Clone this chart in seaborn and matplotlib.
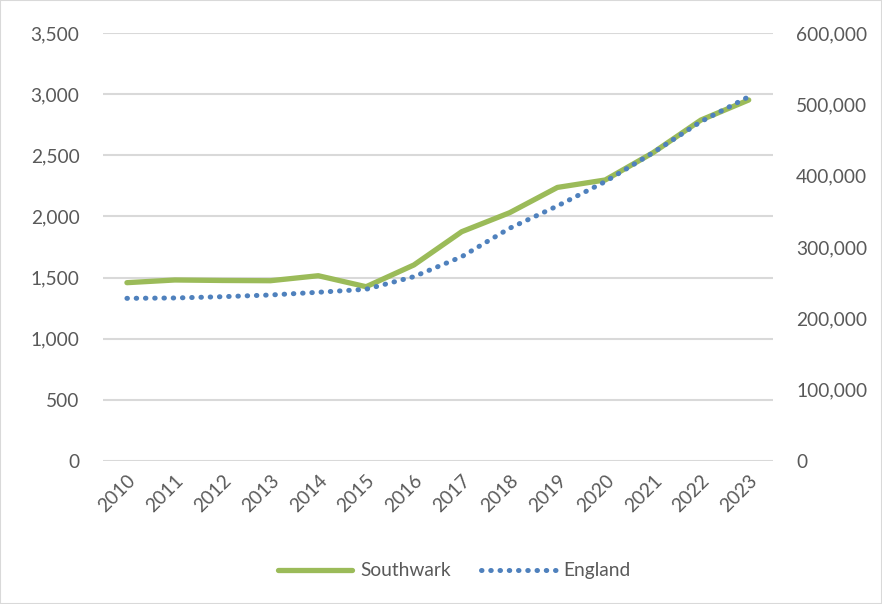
import seaborn as sns
import pandas as pd
import matplotlib.pyplot as plt
from matplotlib.ticker import FuncFormatter, MultipleLocator

sns.set_style("white")
plt.rcParams['font.family'] = ['Lato', 'DejaVu Sans']

years = [2010, 2011, 2012, 2013, 2014, 2015, 2016, 2017, 2018, 2019, 2020, 2021, 2022, 2023]
southwark = [1458, 1480, 1476, 1474, 1515, 1425, 1603, 1875, 2030, 2237, 2298, 2521, 2788, 2952]
england = [228000, 228500, 230300, 232700, 236500, 240700, 258400, 286400, 326200,
           357500, 391600, 432200, 475700, 510700]

df = pd.DataFrame({"year": [str(y) for y in years], "Southwark": southwark, "England": england})

grey = "#595959"
fs = 13.8
fig = plt.figure(figsize=(8.82, 6.04), dpi=100)
ax = fig.add_axes([0.1168, 0.2368, 0.7592, 0.7086])
ax2 = ax.twinx()

sns.lineplot(data=df, x="year", y="Southwark", ax=ax, color="#9BBB59", linewidth=3.8,
             sort=False, label="Southwark", legend=False, zorder=3)
sns.lineplot(data=df, x="year", y="England", ax=ax2, color="#4F81BD", linewidth=3.6,
             linestyle=(0, (0.1, 1.75)), dash_capstyle="round", sort=False,
             label="England", legend=False, zorder=4)

ax.set_ylim(0, 3500)
ax.yaxis.set_major_locator(MultipleLocator(500))
ax2.set_ylim(0, 600000)
ax2.yaxis.set_major_locator(MultipleLocator(100000))
fmt = FuncFormatter(lambda v, p: f"{int(v):,}")
ax.yaxis.set_major_formatter(fmt)
ax2.yaxis.set_major_formatter(fmt)
ax.set_xlim(-0.5, len(years) - 0.5)

ax.grid(axis="y", color="#D9D9D9", linewidth=1.5)
ax.set_axisbelow(True)
for a in (ax, ax2):
    for s in a.spines.values():
        s.set_visible(False)
    a.set_xlabel("")
    a.set_ylabel("")
    a.tick_params(length=0, labelsize=fs, colors=grey)
ax.tick_params(axis="y", pad=17)
ax2.tick_params(axis="y", pad=17)
plt.setp(ax.get_xticklabels(), rotation=45, ha="right", rotation_mode="anchor")
ax.tick_params(axis="x", pad=8)

h1, l1 = ax.get_legend_handles_labels()
h2, l2 = ax2.get_legend_handles_labels()
fig.legend(h1 + h2, l1 + l2, loc="center", bbox_to_anchor=(0.515, 0.055), ncol=2,
           frameon=False, fontsize=fs, labelcolor=grey, handlelength=3.9,
           columnspacing=1.6, handletextpad=0.4)

fig.patches.append(plt.Rectangle((0, 0), 1, 1, transform=fig.transFigure, fill=False,
                                 edgecolor="#D9D9D9", linewidth=1.5))
fig.savefig("out.png", dpi=100)
